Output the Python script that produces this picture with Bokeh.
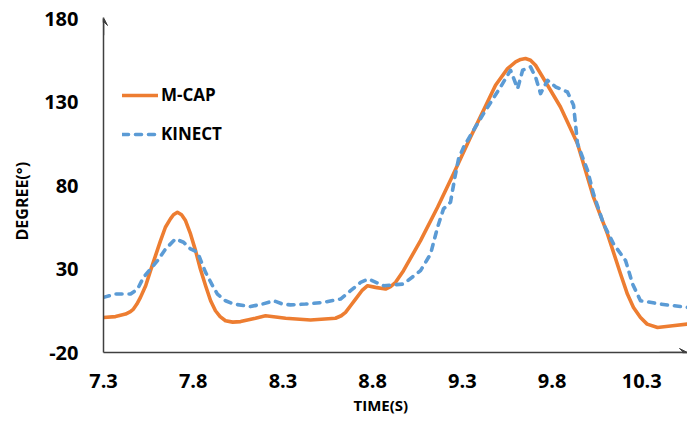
from bokeh.plotting import figure
from bokeh.models import (Range1d, FixedTicker, Legend, LegendItem, Title, Arrow, VeeHead)
from bokeh.embed import file_html
from bokeh.resources import INLINE

# ---- data ----
mcap_t = [7.300, 7.367, 7.423, 7.450, 7.467, 7.486, 7.506, 7.535, 7.562, 7.590, 7.618, 7.645,
          7.673, 7.690, 7.712, 7.735, 7.757, 7.785, 7.813, 7.840, 7.869, 7.897, 7.924, 7.950,
          7.980, 8.020, 8.064, 8.147, 8.203, 8.260, 8.315, 8.454, 8.593, 8.625, 8.649, 8.677,
          8.705, 8.740, 8.772, 8.816, 8.872, 8.900, 8.928, 8.972, 9.067, 9.162, 9.251, 9.346,
          9.418, 9.485, 9.552, 9.597, 9.625, 9.652, 9.680, 9.708, 9.775, 9.847, 9.886, 9.942,
          10.031, 10.109, 10.182, 10.220, 10.254, 10.293, 10.330, 10.388, 10.472, 10.555]
mcap_v = [1, 1.5, 3, 4.5, 6, 9, 13, 20, 29, 38, 47, 55,
          60, 62.5, 64, 62.5, 59, 51, 41, 30, 20, 11, 5, 1.5,
          -1, -1.8, -1.5, 0.5, 2, 1.3, 0.5, -0.5, 0.5, 2, 4, 8,
          12, 17, 20, 19, 18, 19.5, 22, 29, 47, 67, 87, 109,
          125, 140, 150, 154, 155.5, 156, 155, 152, 140, 127, 118, 105,
          73, 51, 27, 15, 7, 1, -3, -5, -4, -3]

kinect_t = [7.300, 7.367, 7.451, 7.490, 7.523, 7.562, 7.601, 7.646, 7.701, 7.746, 7.785, 7.824,
            7.869, 7.908, 7.935, 7.980, 8.025, 8.119, 8.186, 8.248, 8.298, 8.342, 8.426, 8.526,
            8.621, 8.677, 8.733, 8.777, 8.861, 8.972, 9.067, 9.123, 9.162, 9.195, 9.234, 9.257,
            9.279, 9.307, 9.362, 9.418, 9.513, 9.569, 9.608, 9.636, 9.680, 9.708, 9.736, 9.775,
            9.820, 9.886, 9.920, 9.942, 9.998, 10.031, 10.087, 10.143, 10.210, 10.249, 10.293,
            10.405, 10.555]
kinect_v = [13, 15, 15, 18, 25, 30, 35, 42, 48, 46, 42, 40,
            28, 20, 15, 11, 9, 7.5, 9, 11, 9, 8.5, 9, 10,
            12, 17, 22, 24, 20, 21, 29, 39, 55, 66, 70, 84,
            96, 103, 113, 123, 139, 149, 138, 149, 151, 145, 135, 143,
            139, 136, 128, 105, 89, 75, 57, 45, 35, 21, 11,
            9, 7]

x_ticks = [7.3, 7.8, 8.3, 8.8, 9.3, 9.8, 10.3]
y_ticks = [-20, 30, 80, 130, 180]
series_names = ["M-CAP", "KINECT"]
x_title = "TIME(S)"
y_title = "DEGREE(°)"

FONT = "Open Sans"
AXIS_COLOR = "#404040"

p = figure(width=687, height=423, output_backend="svg", toolbar_location=None,
           x_range=Range1d(7.3, 10.555), y_range=Range1d(-20, 180),
           min_border_left=103, min_border_right=0, min_border_top=18, min_border_bottom=71)
p.outline_line_color = None
p.grid.visible = False
p.background_fill_color = "white"
p.border_fill_color = "white"

r1 = p.line(mcap_t, mcap_v, line_color="#ED7D31", line_width=3.6, line_join="round", line_cap="round")
r2 = p.line(kinect_t, kinect_v, line_color="#5B9BD5", line_width=3.6, line_dash="6 7",
            line_join="round", line_cap="round")

for ax in (p.xaxis[0], p.yaxis[0]):
    ax.axis_line_color = AXIS_COLOR
    ax.axis_line_width = 1.5
    ax.major_tick_line_color = None
    ax.minor_tick_line_color = None
    ax.major_label_text_font = FONT
    ax.major_label_text_font_style = "bold"
    ax.major_label_text_font_size = "20px"
    ax.major_label_text_color = "black"

p.xaxis.ticker = FixedTicker(ticks=x_ticks)
p.yaxis.ticker = FixedTicker(ticks=y_ticks)
p.xaxis.major_label_overrides = {t: f"{t:g}" for t in x_ticks}
p.yaxis.major_label_overrides = {t: f"{t:g}" for t in y_ticks}
p.xaxis.major_label_standoff = 15
p.yaxis.major_label_standoff = 19

# axis arrows
p.add_layout(Arrow(end=VeeHead(size=8, fill_color=AXIS_COLOR, line_color=AXIS_COLOR, line_width=1),
                   x_start=7.3, y_start=170, x_end=7.3, y_end=180.6,
                   line_color=AXIS_COLOR, line_width=1.5))
p.add_layout(Arrow(end=VeeHead(size=8, fill_color=AXIS_COLOR, line_color=AXIS_COLOR, line_width=1),
                   x_start=10.4, y_start=-20, x_end=10.555, y_end=-20,
                   line_color=AXIS_COLOR, line_width=1.5))

# axis titles as side-panel titles (positioned with align/offset)
p.add_layout(Title(text=y_title, align="left", offset=112, standoff=17,
                   text_font=FONT, text_font_style="bold", text_font_size="16px",
                   text_color="black"), "left")
p.add_layout(Title(text=x_title, align="left", offset=250, standoff=8, vertical_align="top",
                   text_font=FONT, text_font_style="bold", text_font_size="15px",
                   text_color="black"), "below")

legend = Legend(items=[LegendItem(label=series_names[0], renderers=[r1]),
                       LegendItem(label=series_names[1], renderers=[r2])],
                location=(19, 207), orientation="vertical",
                border_line_color=None, background_fill_alpha=0,
                label_text_font=FONT, label_text_font_style="bold", label_text_font_size="17px",
                label_text_color="black",
                glyph_width=36, glyph_height=20, label_height=20, spacing=16,
                padding=0, margin=0, label_standoff=3)
p.add_layout(legend)

open("out.html", "w").write(file_html(p, INLINE))
